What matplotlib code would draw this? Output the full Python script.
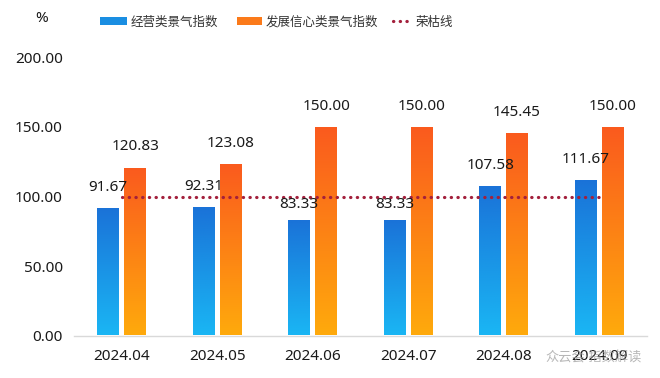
import numpy as np
import matplotlib
matplotlib.use("Agg")
import matplotlib.pyplot as plt
from matplotlib.colors import LinearSegmentedColormap
from matplotlib.patches import Patch
from matplotlib.lines import Line2D

plt.rcParams['font.family'] = ['Noto Sans', 'Noto Sans CJK SC', 'DejaVu Sans']

months = ["2024.04", "2024.05", "2024.06", "2024.07", "2024.08", "2024.09"]
operating = [91.67, 92.31, 83.33, 83.33, 107.58, 111.67]
confidence = [120.83, 123.08, 150.00, 150.00, 145.45, 150.00]
boom_bust = [100, 100, 100, 100, 100, 100]
yticks = [0, 50, 100, 150, 200]
series_names = ["经营类景气指数", "发展信心类景气指数", "荣枯线"]

fig = plt.figure(figsize=(6.6, 3.78), dpi=100)
ax = fig.add_axes([74 / 660, 42.5 / 378, 572.8 / 660, 278 / 378])

x = np.arange(len(months))
w = 0.226
off = 0.141

blue_cmap = LinearSegmentedColormap.from_list("b", ["#1ab6f4", "#1a72d8"])
orange_cmap = LinearSegmentedColormap.from_list("o", ["#ffaa0c", "#fa5a1e"])
grad = np.linspace(0, 1, 256).reshape(-1, 1)

def gradient_bars(xs, vals, cmap):
    bars = ax.bar(xs, vals, width=w, color="none", edgecolor="none", zorder=2)
    for b in bars:
        x0, y0 = b.get_x(), b.get_y()
        im = ax.imshow(grad, extent=[x0, x0 + b.get_width(), y0, y0 + b.get_height()],
                       origin="lower", aspect="auto", cmap=cmap, zorder=2)
        im.set_clip_path(b)
    return bars

gradient_bars(x - off, operating, blue_cmap)
gradient_bars(x + off, confidence, orange_cmap)

line_style = dict(color="#a3203c", linewidth=2.3, linestyle=(0, (0.1, 2.0)),
                  dash_capstyle="round")
ax.plot(x, boom_bust, zorder=3, **line_style)

for xs, vals in ((x - off, operating), (x + off, confidence)):
    for xi, v in zip(xs, vals):
        # labels just below the boom-bust line sit closer to their bar
        dy = 5.5 if v < 90 else 9.5
        ax.annotate(f"{v:.2f}", (xi, v), xytext=(0, dy), textcoords="offset points",
                    ha="center", va="bottom", fontsize=11, color="#1a1a1a", zorder=4)

ax.set_xlim(-0.5, 5.5)
ax.set_ylim(0, 200)
ax.set_yticks(yticks)
ax.set_yticklabels([f"{t:.2f}" for t in yticks])
ax.set_xticks(x)
ax.set_xticklabels(months)
ax.tick_params(axis="both", length=0, labelsize=11, colors="#1a1a1a")
ax.tick_params(axis="y", pad=8)
ax.tick_params(axis="x", pad=10)
for s in ["top", "right", "left"]:
    ax.spines[s].set_visible(False)
ax.spines["bottom"].set_color("#d9d9d9")
ax.spines["bottom"].set_linewidth(1)

fig.text(42 / 660, 1 - 18 / 378, "%", ha="center", va="center", fontsize=11, color="#1a1a1a")

# legend: one entry per legend so each sits where the reference puts it
handles = [Patch(facecolor="#1a8ee2", edgecolor="none"),
           Patch(facecolor="#fb7a1a", edgecolor="none"),
           Line2D([0], [0], **line_style)]
anchors_px = [100, 237, 393]
hlens = [2.16, 2.0, 1.52]
for h, name, ax_px, hl in zip(handles, series_names, anchors_px, hlens):
    lg = fig.legend([h], [name], loc="center left",
                    bbox_to_anchor=(ax_px / 660, 1 - 22 / 378),
                    frameon=False, fontsize=9, handlelength=hl, handleheight=0.55,
                    handletextpad=0.3, borderpad=0, borderaxespad=0,
                    labelcolor="#333333")

fig.text(545 / 660, 1 - 358 / 378, "众云会·指数解读", ha="left", va="center",
         fontsize=9.5, color="#999999", alpha=0.7)

fig.savefig("out.png", dpi=100)
